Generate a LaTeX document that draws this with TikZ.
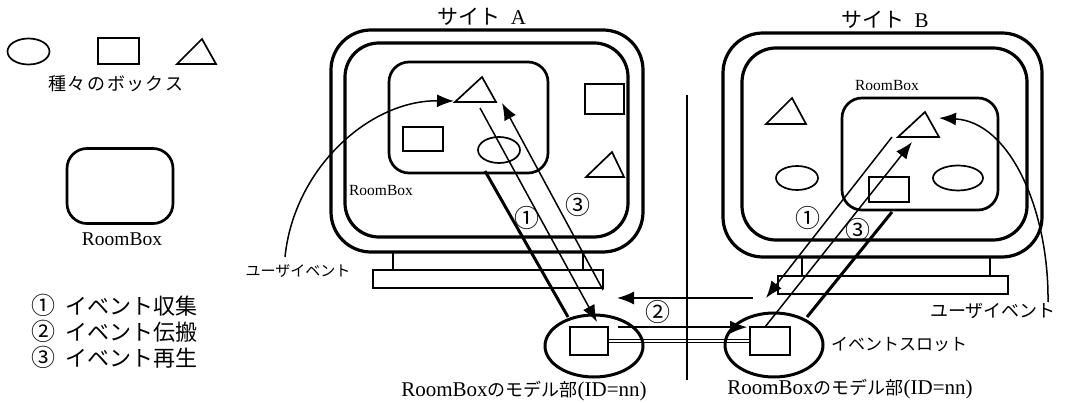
\documentclass[tikz,border=0pt]{standalone}
\usepackage{fontspec}
\setmainfont{Liberation Serif}
\newfontfamily\cjk{Noto Sans CJK JP}
\usetikzlibrary{arrows.meta,shapes.geometric}
\begin{document}
\begin{tikzpicture}[x=1pt,y=-1pt,
  frame/.style={draw,line width=3.2pt,rounded corners=40pt,inner sep=0pt},
  screen/.style={draw,line width=3.2pt,rounded corners=34pt,inner sep=0pt},
  room/.style={draw,line width=2.7pt,rounded corners=20pt,inner sep=0pt},
  plat/.style={draw,line width=2.9pt,inner sep=0pt},
  shp/.style={draw,line width=1.7pt,inner sep=0pt},
  oval/.style={draw,ellipse,line width=1.7pt,inner sep=0pt},
  model/.style={draw,ellipse,line width=3pt,inner sep=0pt},
  thinl/.style={line width=1.5pt},
  thickl/.style={line width=3pt},
  arr/.style={-{Latex[length=17pt,width=13pt]}},
  jp/.style={inner sep=0pt,font=\cjk\fontsize{#1}{#1}\selectfont},
  num/.style={inner sep=0pt,font=\cjk\fontsize{25}{25}\selectfont}
]
\useasboundingbox (0,0) rectangle (1065,403);

% ---------- legend ----------
\node[oval,minimum width=42,minimum height=26] (lgE) at (28.5,51.5) {};
\node[shp,minimum width=41,minimum height=26] (lgR) at (118.5,51) {};
\draw[line width=1.7pt] (177,64) -- (202,39) -- (216,64) -- cycle;
\node[jp=18] (lgT) at (116,84) {種\hspace{1.5pt}々\hspace{1.5pt}の\hspace{1.5pt}ボ\hspace{1.5pt}ッ\hspace{1.5pt}ク\hspace{1.5pt}ス};
\node[room,minimum width=106,minimum height=75] (lgRB) at (120,186) {};
\node[inner sep=0pt,font=\fontsize{19.5}{20}\selectfont] (lgRBt) at (122,239) {RoomBox};
\node[jp=22,anchor=west] (l1) at (31,305) {{\fontsize{24}{24}\selectfont ①}\hspace{10pt}イベント収集};
\node[jp=22,anchor=west] (l2) at (31,331) {{\fontsize{24}{24}\selectfont ②}\hspace{10pt}イベント伝搬};
\node[jp=22,anchor=west] (l3) at (31,357) {{\fontsize{24}{24}\selectfont ③}\hspace{10pt}イベント再生};

% ---------- site A ----------
\node[jp=21] (tA) at (482,17) {サイト\hspace{10pt}{\rmfamily A}};
\node[frame,minimum width=312,minimum height=222] (oA) at (487,141) {};
\node[screen,minimum width=283,minimum height=194] (iA) at (486.5,140) {};
\node[plat,minimum width=190,minimum height=18] (stA) at (488,261) {};
\node[plat,minimum width=230,minimum height=18] (pfA) at (488,279) {};
\node[room,minimum width=159,minimum height=111] (rbA) at (468.5,117.5) {};
\node[inner sep=0pt,font=\fontsize{15.5}{16}\selectfont] (rbAt) at (381,191) {RoomBox};
\draw[line width=1.7pt] (455,102) -- (482,77) -- (496,102) -- cycle;
\node[shp,minimum width=40,minimum height=24] (rA1) at (423,139) {};
\node[oval,minimum width=42,minimum height=26] (eA1) at (499,150) {};
\node[shp,minimum width=39,minimum height=30] (rA2) at (604.5,99) {};
\draw[line width=1.7pt] (586,177) -- (612,152) -- (624,177) -- cycle;

% ---------- site B ----------
\node[jp=21] (tB) at (885,20) {サイト\hspace{10pt}{\rmfamily B}};
\node[frame,minimum width=319,minimum height=224] (oB) at (882.5,145) {};
\node[screen,minimum width=285,minimum height=192] (iB) at (884.5,144) {};
\node[plat,minimum width=188,minimum height=19] (stB) at (896,266.5) {};
\node[plat,minimum width=230,minimum height=18] (pfB) at (893,285) {};
\node[room,minimum width=156,minimum height=112] (rbB) at (920,154) {};
\node[inner sep=0pt,font=\fontsize{15.5}{16}\selectfont] (rbBt) at (887,86) {RoomBox};
\draw[line width=1.7pt] (766,124) -- (792,98) -- (806,124) -- cycle;
\node[oval,minimum width=42,minimum height=24] (eB1) at (797,178) {};
\draw[line width=1.7pt] (898,137) -- (925,112) -- (939,137) -- cycle;
\node[shp,minimum width=40,minimum height=25] (rB1) at (889,189.5) {};
\node[oval,minimum width=50,minimum height=25] (eB2) at (958,178) {};

% ---------- model parts ----------
\node[shp,minimum width=38,minimum height=28] (mA) at (589,341) {};
\node[shp,minimum width=40,minimum height=28] (mB) at (770,341) {};
\draw[line width=1.2pt,double,double distance=2.4pt] (mA.east) -- (mB.west);
\node[model,minimum width=98,minimum height=62] (elA) at (594,346) {};
\node[model,minimum width=98,minimum height=64] (elB) at (774,345) {};

% divider
\coordinate (dvT) at (687,95);
\coordinate (dvB) at (687,380);
\draw[line width=1.5pt] (dvT) -- (dvB);

% ---------- connectors ----------
% site A
\coordinate (a1s) at (480,108);
\coordinate (a1e) at (597,322);
\coordinate (a3s) at (603,290);
\coordinate (a3e) at (502,103);
\coordinate (aTs) at (485,171);
\coordinate (aTe) at (568,317);
\draw[thickl] (aTs) -- (aTe);
\draw[thinl,arr] (a1s) -- (a1e);
\draw[thinl,arr] (a3s) -- (a3e);
% site B
\coordinate (b1s) at (892,137);
\coordinate (b1e) at (766,298);
\coordinate (b3s) at (765,327);
\coordinate (b3e) at (912,142);
\coordinate (bTs) at (892,212);
\coordinate (bTe) at (807,317);
\draw[thickl] (bTs) -- (bTe);
\draw[thinl,arr] (b1s) -- (b1e);
\draw[thinl,arr] (b3s) -- (b3e);
% propagation
\coordinate (p2s) at (753,298);
\coordinate (p2e) at (617,298);
\draw[thinl,arr] (p2s) -- (p2e);
\draw[thinl,arr] ([xshift=9pt,yshift=-1pt]mA.north east) -- ([xshift=-2pt,yshift=-1pt]mB.north west);

% user events
\node[jp=15] (ueA) at (298,271) {ユーザイベント};
\node[jp=18] (ueB) at (993,311) {ユーザイベント};
\coordinate (ueAs) at (285,257);
\coordinate (ueAe) at (454,101);
\coordinate (ueBs) at (1048,302);
\coordinate (ueBe) at (939,118);
\draw[thinl,arr] (ueAs) .. controls (294,168) and (370,100) .. (ueAe);
\draw[thinl,arr] (ueBs) .. controls (1049,210) and (1010,122) .. (ueBe);

% circled numbers
\node[num] (nA1) at (527,218) {①};
\node[num] (nA3) at (578,205) {③};
\node[num] (n2) at (658,312) {②};
\node[num] (nB1) at (808,218) {①};
\node[num] (nB3) at (858,230) {③};

% labels
\node[jp=17] (slot) at (899,344) {イベントスロット};
\node[inner sep=0pt] (mlA) at (524,391) {\fontsize{21}{22}\selectfont RoomBox{\cjk\fontsize{18}{18}\selectfont のモデル部}(ID=nn)};
\node[inner sep=0pt] (mlB) at (850,389) {\fontsize{21}{22}\selectfont RoomBox{\cjk\fontsize{18}{18}\selectfont のモデル部}(ID=nn)};
\end{tikzpicture}
\end{document}
